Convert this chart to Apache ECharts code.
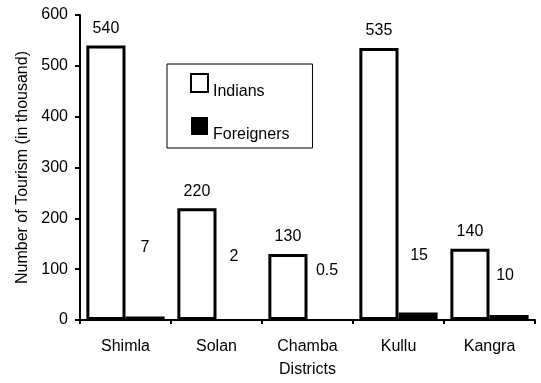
<!DOCTYPE html>
<html>
<head>
<meta charset="utf-8">
<script src="https://cdn.jsdelivr.net/npm/echarts@6/dist/echarts.min.js"></script>
<style>html,body{margin:0;padding:0;background:#fff}#c{width:541px;height:383px}</style>
</head>
<body>
<div id="c"></div>
<script>
const categories = ['Shimla', 'Solan', 'Chamba', 'Kullu', 'Kangra'];
const indians = [540, 220, 130, 535, 140];
const foreigners = [7, 2, 0.5, 15, 10];
const yTicks = [0, 100, 200, 300, 400, 500, 600];

// label placement offsets for the foreigners' value labels (style only)
const foreignLabelOffsets = [[0, -56], [-2, -49], [0, -36], [1, -44], [-4, -26]];

const FONT = '"Liberation Sans", Arial, sans-serif';
const FS = 16;
const chart = echarts.init(document.getElementById('c'));
chart.setOption({
  animation: false,
  backgroundColor: '#fff',
  textStyle: { fontFamily: FONT, color: '#000' },
  grid: { left: 80, right: 6, top: 15, bottom: 62 },
  legend: {
    orient: 'vertical',
    left: 167, top: 64,
    padding: [9, 23, 5, 23],
    itemGap: 16,
    itemWidth: 17, itemHeight: 18,
    icon: 'rect',
    borderColor: '#000', borderWidth: 1,
    formatter: name => '{s| }\n{a|' + name + '}',
    textStyle: {
      fontFamily: FONT, fontSize: 16, color: '#000',
      rich: {
        s: { fontSize: 2, lineHeight: 18 },
        a: { fontFamily: FONT, fontSize: 16, color: '#000', lineHeight: 18 }
      }
    },
    data: ['Indians', 'Foreigners']
  },
  xAxis: {
    type: 'category',
    data: categories,
    name: 'Districts',
    nameLocation: 'middle',
    nameGap: 42,
    nameTextStyle: { fontFamily: FONT, fontSize: FS, color: '#000' },
    axisLine: { lineStyle: { color: '#000', width: 2 } },
    axisTick: { show: true, length: 4, lineStyle: { color: '#000', width: 2 } },
    axisLabel: { fontFamily: FONT, fontSize: FS, color: '#000', margin: 19 }
  },
  yAxis: {
    type: 'value',
    min: yTicks[0], max: yTicks[yTicks.length - 1], interval: 100,
    name: 'Number of Tourism (in thousand)',
    nameLocation: 'middle',
    nameGap: 47,
    nameTextStyle: { fontFamily: FONT, fontSize: FS, color: '#000' },
    splitLine: { show: false },
    axisLine: { show: true, lineStyle: { color: '#000', width: 2 } },
    axisTick: { show: true, length: 5, lineStyle: { color: '#000', width: 2 } },
    axisLabel: { fontFamily: FONT, fontSize: FS, color: '#000', margin: 12 }
  },
  series: [
    {
      name: 'Indians',
      type: 'bar',
      data: indians,
      barGap: '0%',
      barCategoryGap: '14%',
      itemStyle: { color: '#fff', borderColor: '#000', borderWidth: 3 },
      label: { show: true, position: 'top', distance: 9, fontFamily: FONT, fontSize: FS, color: '#000' }
    },
    {
      name: 'Foreigners',
      type: 'bar',
      data: foreigners.map((v, i) => ({
        value: v,
        label: { offset: foreignLabelOffsets[i] }
      })),
      itemStyle: { color: '#000', borderColor: '#000', borderWidth: 0 },
      label: { show: true, position: 'top', distance: 5, fontFamily: FONT, fontSize: FS, color: '#000' }
    }
  ]
});
</script>
</body>
</html>
